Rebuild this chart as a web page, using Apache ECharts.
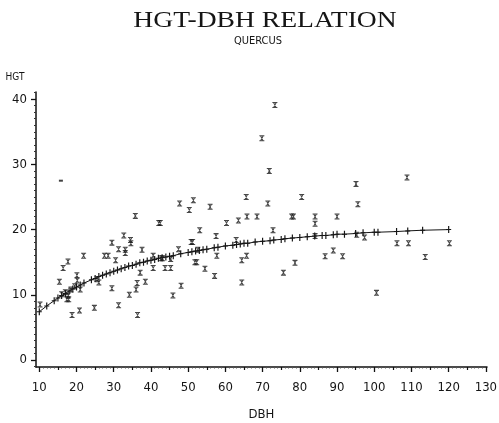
<!DOCTYPE html>
<html><head><meta charset="utf-8">
<script src="https://cdn.jsdelivr.net/npm/echarts@6/dist/echarts.min.js"></script>
<style>html,body{margin:0;padding:0;background:#fff}#c{width:499px;height:423px}</style>
</head><body><div id="c"></div>
<script>
const titleText = 'HGT-DBH RELATION';
const subtitleText = 'QUERCUS';
const xName = 'DBH';
const yName = 'HGT';
const xTickLabels = [10,20,30,40,50,60,70,80,90,100,110,120,130];
const yTickLabels = [0,10,20,30,40];

const obsDBH = [10.2,15.4,16.4,17.7,17.4,17.9,17.8,16.0,17.0,18.5,19.5,18.8,20.1,20.2,20.8,21.0,21.9,24.8,25.5,26.0,
  27.5,28.5,29.5,29.5,30.5,31.3,31.3,32.7,33.1,33.1,34.5,34.6,34.2,35.8,36.0,36.3,36.4,37.1,37.6,38.5,
  40.6,40.6,42.1,42.5,42.7,43.1,43.8,45.3,45.3,45.9,47.4,47.7,48.1,50.3,51.4,50.8,51.2,51.8,52.3,52.6,
  53.1,54.5,55.9,57.1,57.5,57.7,60.3,62.9,63.5,64.4,64.4,65.6,65.7,65.8,68.5,69.8,71.8,71.4,72.8,73.3,
  75.6,77.8,78.3,78.7,80.5,84.1,84.1,84.1,86.8,89.0,90.0,91.5,95.1,95.6,95.3,97.4,100.6,106.1,108.8,109.2,
  113.7,120.2];
const obsHGT = [8.5,12.0,14.1,15.1,9.3,9.3,9.9,10.1,10.4,10.8,11.3,6.9,13.0,12.2,7.6,10.8,16.0,8.0,12.4,11.9,
  16.0,16.0,18.0,11.0,15.3,17.0,8.4,19.1,16.9,16.4,18.4,17.9,10.0,22.1,10.8,11.8,6.9,13.4,16.9,12.0,
  16.0,14.1,21.0,21.0,15.6,15.6,14.1,14.1,15.5,9.9,17.0,24.0,11.4,23.0,24.5,18.1,18.1,15.0,15.0,16.9,
  19.9,14.0,23.5,12.9,19.0,16.0,21.0,18.4,21.4,11.9,15.3,25.0,16.0,22.0,22.0,34.0,29.0,24.0,19.9,39.1,
  13.4,22.0,22.0,14.9,25.0,22.0,20.9,19.0,15.9,16.8,22.0,15.9,27.0,23.9,19.2,18.8,10.3,17.9,28.0,17.9,
  15.8,17.9];

const fitDBH = [10,12,14,15,16,17,18,19,20,21,22,24,25,26,27,28,29,30,31,32,33,34,35,36,37,38,39,40,41,42,43,44,45,46,48,
  50,51,52,53,54,55,57,58,60,62,63,64,65,66,68,70,72,73,75,76,78,80,82,84,86,87,89,90,92,95,97,100,101,106,109,113,120];
const fitHGT = [7.4,8.3,9.1,9.5,9.9,10.2,10.6,10.9,11.2,11.5,11.8,12.3,12.5,12.8,13.0,13.2,13.4,13.6,13.8,14.0,14.2,14.4,14.5,14.7,14.9,15.0,15.2,15.3,15.4,15.6,15.7,15.8,15.9,16.0,16.3,
  16.5,16.6,16.7,16.8,16.9,17.0,17.2,17.3,17.5,17.6,17.7,17.8,17.9,17.9,18.1,18.2,18.3,18.4,18.5,18.6,18.7,18.8,18.9,19.0,19.1,19.1,19.2,19.3,19.3,19.4,19.5,19.6,19.6,19.7,19.8,19.9,20.0];

const oddDBH = [15.8];
const oddHGT = [27.5];

const X0 = 9.11, X1 = 130.3, Y0 = -1.07, Y1 = 41.1;
const ink = '#111';
const tickFont = '"Liberation Sans Narrow", "DejaVu Sans Condensed", "Liberation Sans", sans-serif';

const xMid = [], xMinor = [], yMinor = [];
for (let v = 10; v <= 130; v++) { if (v % 10 === 5) xMid.push(v); else if (v % 10 !== 0) xMinor.push(v); }
for (let v = -1; v <= 41; v++) { if (v % 10 !== 0) yMinor.push(v); }

const gridRect = {left: 36, right: 12, top: 92, bottom: 56, containLabel: false, outerBoundsMode: 'none'};

function axis(extra) {
  return Object.assign({
    type: 'value', splitLine: {show: false}, axisLabel: {show: false},
    axisLine: {show: false, onZero: false}, axisTick: {show: false}
  }, extra);
}

const starPath = 'path://M0,0H6V1.2H0Z M0,5.8H6V7H0Z M1,1L2.4,1L5,6L3.6,6Z M3.6,1L5,1L2.4,6L1,6Z';
const plusPath = 'path://M2.3,0H3.7V3H6V4H3.7V7H2.3V4H0V3H2.3Z';

const chart = echarts.init(document.getElementById('c'), null, {renderer: 'canvas'});
chart.setOption({
  animation: false,
  backgroundColor: '#fff',
  grid: [Object.assign({}, gridRect), Object.assign({}, gridRect), Object.assign({}, gridRect)],
  graphic: [
    {type: 'text', x: 265, y: 21, scaleX: 1.2, originX: 0, originY: 0,
     style: {text: titleText, fill: '#151515', font: '23px "Liberation Serif", "DejaVu Serif", serif',
             align: 'center', verticalAlign: 'middle'}},
    {type: 'text', x: 258, y: 41,
     style: {text: subtitleText, fill: '#151515', font: '11px ' + tickFont, align: 'center', verticalAlign: 'middle'}},
    {type: 'text', x: 15, y: 77,
     style: {text: yName, fill: '#151515', font: '10px ' + tickFont, align: 'center', verticalAlign: 'middle'}}
  ],
  xAxis: [
    axis({gridIndex: 0, min: X0, max: X1, position: 'bottom',
      axisLine: {show: true, onZero: false, lineStyle: {color: ink, width: 1.5}},
      axisTick: {show: true, customValues: xTickLabels, length: 5, lineStyle: {color: ink, width: 1.3}},
      axisLabel: {show: true, customValues: xTickLabels, margin: 14, color: '#151515', fontSize: 13, fontFamily: tickFont},
      name: xName, nameLocation: 'middle', nameGap: 41,
      nameTextStyle: {color: '#151515', fontSize: 13, fontFamily: tickFont}}),
    axis({gridIndex: 1, min: X0, max: X1, position: 'bottom',
      axisTick: {show: true, customValues: xMid, length: 3, lineStyle: {color: ink, width: 1.2}}}),
    axis({gridIndex: 2, min: X0, max: X1, position: 'bottom',
      axisTick: {show: true, customValues: xMinor, length: 1.5, lineStyle: {color: '#555', width: 1}}})
  ],
  yAxis: [
    axis({gridIndex: 0, min: Y0, max: Y1, position: 'left',
      axisLine: {show: true, onZero: false, lineStyle: {color: ink, width: 1.5}},
      axisTick: {show: true, customValues: yTickLabels, length: 5, lineStyle: {color: ink, width: 1.3}},
      axisLabel: {show: true, customValues: yTickLabels, margin: 9, color: '#151515', fontSize: 13, fontFamily: tickFont}}),
    axis({gridIndex: 1, min: Y0, max: Y1, position: 'left',
      axisTick: {show: true, customValues: yMinor, length: 2, lineStyle: {color: '#333', width: 1}}}),
    axis({gridIndex: 2, min: Y0, max: Y1, position: 'left', show: false})
  ],
  series: [
    {type: 'line', name: 'fit', xAxisIndex: 0, yAxisIndex: 0,
     data: fitDBH.map((d, i) => [d, fitHGT[i]]),
     symbol: plusPath, symbolSize: [5, 7], showSymbol: true,
     lineStyle: {color: '#151515', width: 1}, itemStyle: {color: '#151515'}, z: 3},
    {type: 'scatter', name: 'obs', xAxisIndex: 0, yAxisIndex: 0,
     data: obsDBH.map((d, i) => [d, obsHGT[i]]),
     symbol: starPath, symbolSize: [5, 6], itemStyle: {color: '#1a1a1a'}, z: 4},
    {type: 'scatter', name: 'odd', xAxisIndex: 0, yAxisIndex: 0,
     data: oddDBH.map((d, i) => [d, oddHGT[i]]),
     symbol: 'rect', symbolSize: [4, 2], itemStyle: {color: '#111'}, z: 4}
  ]
});
</script>
</body></html>
